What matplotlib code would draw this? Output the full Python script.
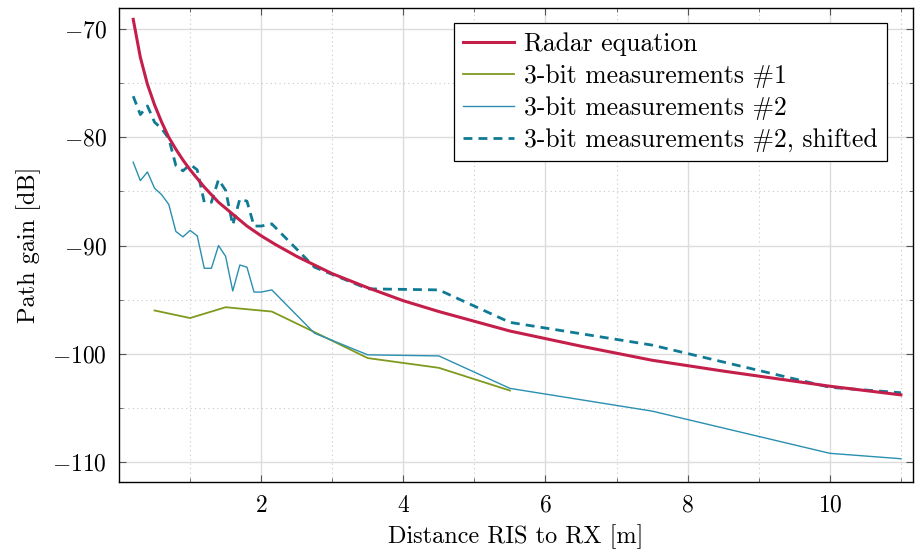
import numpy as np
import matplotlib
matplotlib.use("Agg")
import matplotlib.pyplot as plt
from matplotlib.ticker import MultipleLocator, FixedLocator

plt.rcParams['font.family'] = 'serif'
plt.rcParams['font.serif'] = ['cmr10', 'DejaVu Serif']
plt.rcParams['mathtext.fontset'] = 'cm'
plt.rcParams['axes.formatter.use_mathtext'] = True

# Radar equation
radar_x = [0.2, 0.3, 0.4, 0.5, 0.6, 0.7, 0.8, 0.9, 1.0, 1.2, 1.4, 1.6, 1.8, 2.0,
           2.2, 2.5, 2.75, 3.0, 3.5, 4.0, 4.5, 5.5, 6.5, 7.5, 8.5, 10.0, 11.0]
radar_y = [-69.1, -72.6, -75.1, -77.0, -78.6, -80.0, -81.1, -82.1, -83.0, -84.6,
           -86.0, -87.1, -88.2, -89.1, -89.9, -91.0, -91.8, -92.6, -93.9, -95.1,
           -96.1, -97.9, -99.3, -100.6, -101.6, -103.0, -103.8]

# 3-bit measurements #1
m1_x = [0.5, 1.0, 1.5, 2.15, 2.75, 3.5, 4.5, 5.5]
m1_y = [-96.0, -96.7, -95.7, -96.1, -98.0, -100.4, -101.3, -103.4]

# 3-bit measurements #2
m2_x = [0.2, 0.3, 0.4, 0.5, 0.6, 0.7, 0.8, 0.9, 1.0, 1.1, 1.2, 1.3, 1.4, 1.5,
        1.6, 1.7, 1.8, 1.9, 2.0, 2.15, 2.75, 3.5, 4.5, 5.5, 7.5, 10.0, 11.0]
m2_y = [-82.3, -84.0, -83.2, -84.7, -85.3, -86.2, -88.7, -89.2, -88.6, -89.1,
        -92.1, -92.1, -90.0, -91.0, -94.2, -91.8, -92.0, -94.3, -94.3, -94.1,
        -98.1, -100.1, -100.2, -103.2, -105.3, -109.2, -109.7]

# 3-bit measurements #2, shifted
m2s_x = [0.2, 0.3, 0.4, 0.5, 0.6, 0.7, 0.8, 0.9, 1.0, 1.1, 1.2, 1.3, 1.4, 1.5,
         1.6, 1.7, 1.8, 1.9, 2.0, 2.15, 2.75, 3.5, 4.5, 5.5, 7.5, 10.0, 11.0]
m2s_y = [-76.2, -77.9, -77.1, -78.6, -79.2, -80.1, -82.6, -83.1, -82.5, -83.0,
         -86.0, -86.0, -83.9, -84.9, -88.1, -85.7, -85.9, -88.2, -88.2, -88.0,
         -92.0, -94.0, -94.1, -97.1, -99.2, -103.1, -103.6]

x_ticks = [2, 4, 6, 8, 10]
y_ticks = [-110, -100, -90, -80, -70]

fig = plt.figure(figsize=(9.17, 5.5), dpi=100)
ax = fig.add_axes([119/917, 1-482/550, (913-119)/917, (482-8)/550])

ax.plot(radar_x, radar_y, color='#C41E4A', lw=2.2, label='Radar equation', zorder=4)
ax.plot(m1_x, m1_y, color='#7F9A1F', lw=1.3, label='3-bit measurements #1', zorder=3)
ax.plot(m2_x, m2_y, color='#2A8FB0', lw=1.0, label='3-bit measurements #2', zorder=3)
ax.plot(m2s_x, m2s_y, color='#0F7A94', lw=2.0, ls=(0, (3.2, 2.2)),
        label='3-bit measurements #2, shifted', zorder=3)

ax.set_xlim(0.0, 11.17)
ax.set_ylim(-111.85, -68.05)
ax.xaxis.set_major_locator(FixedLocator(x_ticks))
ax.xaxis.set_minor_locator(FixedLocator([1, 3, 5, 7, 9, 11]))
ax.yaxis.set_major_locator(FixedLocator(y_ticks))
ax.yaxis.set_minor_locator(MultipleLocator(5))

ax.grid(which='major', color='#dcdcdc', lw=1.0, ls='-')
ax.grid(which='minor', color='#c8c8c8', lw=0.8, ls=(0, (1, 3)))
ax.set_axisbelow(True)

ax.tick_params(which='both', direction='in', top=True, right=True, color='#555555')
ax.tick_params(which='major', length=5, labelsize=17, pad=9)
ax.tick_params(which='minor', length=3)
for s in ax.spines.values():
    s.set_linewidth(1.0)

ax.set_xlabel('Distance RIS to RX [m]', fontsize=17.5, labelpad=5.5)
ax.set_ylabel('Path gain [dB]', fontsize=17.5, labelpad=8)

leg = ax.legend(loc='upper right', bbox_to_anchor=(0.967, 0.968), fontsize=18.5,
                frameon=True, fancybox=False, edgecolor='black', framealpha=1.0,
                handlelength=2.0, handletextpad=0.4, labelspacing=0.32,
                borderpad=0.35, borderaxespad=0.0)
leg.get_frame().set_linewidth(0.9)

fig.savefig('out.png', dpi=100)
